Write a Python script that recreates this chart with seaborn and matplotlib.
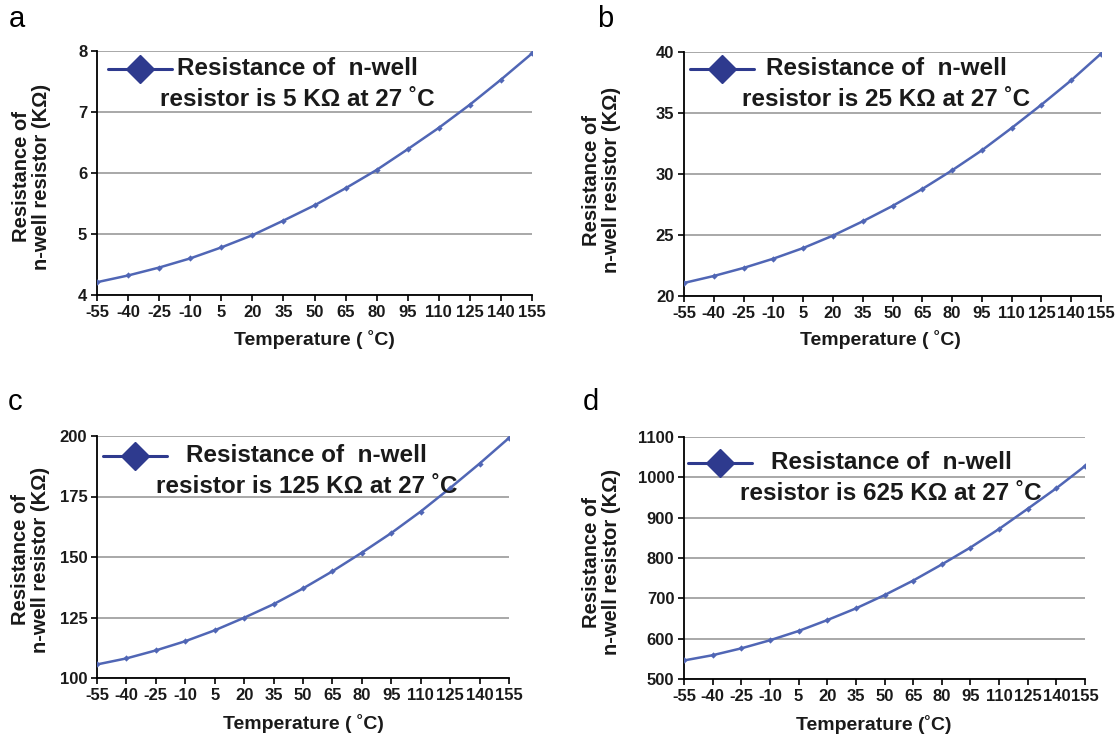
import matplotlib
matplotlib.use("Agg")
import matplotlib.pyplot as plt
from matplotlib.lines import Line2D
from matplotlib.legend_handler import HandlerLine2D
import seaborn as sns
import pandas as pd

temps = [-55, -40, -25, -10, 5, 20, 35, 50, 65, 80, 95, 110, 125, 140, 155]

res_a = [4.21, 4.32, 4.45, 4.60, 4.78, 4.98, 5.22, 5.47, 5.75, 6.05, 6.39, 6.74, 7.12, 7.53, 7.96]
res_b = [21.07, 21.64, 22.30, 23.06, 23.93, 24.95, 26.12, 27.38, 28.77, 30.30, 31.94, 33.77, 35.68, 37.68, 39.86]
res_c = [105.6, 108.1, 111.4, 115.2, 119.7, 124.9, 130.5, 137.0, 144.1, 151.8, 159.9, 168.8, 178.5, 188.6, 199.2]
res_d = [546, 559, 576, 596, 619, 646, 675, 708, 744, 784, 826, 872, 922, 973, 1028]

nominal = ["5", "25", "125", "625"]
panel_letters = ["a", "b", "c", "d"]
xlabels = ["Temperature ( \u02daC)", "Temperature ( \u02daC)", "Temperature ( \u02daC)", "Temperature (\u02daC)"]
yticks_a = [4, 5, 6, 7, 8]
yticks_b = [20, 25, 30, 35, 40]
yticks_c = [100, 125, 150, 175, 200]
yticks_d = [500, 600, 700, 800, 900, 1000, 1100]

sns.set_theme(style="white")
plt.rcParams["font.family"] = ["Liberation Sans", "DejaVu Sans"]

LINE = "#5066b5"
NAVY = "#2e3a8e"
GRID = "#9a9a9a"
TXT = "#1a1a1a"
LEG_FS = 17.5


class ShiftedHandler(HandlerLine2D):
    """Line+marker handle raised to sit beside the first line of a two-line label."""
    def __init__(self, shift, **kw):
        super().__init__(**kw)
        self.shift = shift

    def create_artists(self, legend, orig_handle, xdescent, ydescent, width, height, fontsize, trans):
        arts = super().create_artists(legend, orig_handle, xdescent, ydescent, width, height, fontsize, trans)
        for a in arts:
            a.set_ydata([y + self.shift for y in a.get_ydata()])
        return arts


fig = plt.figure(figsize=(11.2, 7.35), dpi=100)
W, H = 1120, 735

# pixel boxes: left, top, right, bottom
boxes = [(97, 51, 532, 295), (684, 52, 1101, 296), (97, 436, 509, 678), (684, 437, 1085, 679)]
ylab_pos = [(-0.150, 0.484), (-0.197, 0.475), (-0.162, 0.488), (-0.205, 0.483)]
xlab_pos = [(0.50, -0.184), (0.47, -0.18), (0.50, -0.19), (0.472, -0.186)]
letter_pos = [(9, 27), (597, 27), (8, 410), (583, 410)]
# legend top-left anchor, pixels
legend_px = [(108, 57), (690, 57), (103, 444), (688, 451)]

series = [res_a, res_b, res_c, res_d]
yticks = [yticks_a, yticks_b, yticks_c, yticks_d]

for i in range(4):
    l, t, r, b = boxes[i]
    ax = fig.add_axes([l / W, 1 - b / H, (r - l) / W, (b - t) / H])
    df = pd.DataFrame({"Temperature": temps, "Resistance": series[i]})
    sns.lineplot(data=df, x="Temperature", y="Resistance", ax=ax, color=LINE,
                 linewidth=1.8, marker="D", markersize=3.2, markeredgewidth=0,
                 legend=False, zorder=3)
    ax.set_xlim(temps[0], temps[-1])
    ax.set_xticks(temps)
    ax.set_xticklabels([str(v) for v in temps])
    yt = yticks[i]
    ax.set_ylim(yt[0], yt[-1])
    ax.set_yticks(yt)
    ax.set_yticklabels([str(v) for v in yt])
    ax.grid(axis="y", color=GRID, linewidth=1.2)
    ax.grid(axis="x", visible=False)
    ax.set_axisbelow(True)
    for s in ["top", "right"]:
        ax.spines[s].set_visible(False)
    for s in ["left", "bottom"]:
        ax.spines[s].set_color("black")
        ax.spines[s].set_linewidth(1.3)
    ax.tick_params(axis="both", which="major", direction="out", length=4, width=1.2,
                   color="black", labelsize=12, labelcolor=TXT, pad=3,
                   bottom=True, left=True)
    for lab in ax.get_xticklabels() + ax.get_yticklabels():
        lab.set_fontweight("bold")
    ax.set_xlabel(xlabels[i], fontsize=14, fontweight="bold", color=TXT, va="center")
    ax.xaxis.set_label_coords(*xlab_pos[i])
    ax.set_ylabel("Resistance of\nn-well resistor (K\u03a9)", fontsize=14.5, fontweight="bold",
                  color=TXT, va="center", linespacing=1.05)
    ax.yaxis.set_label_coords(*ylab_pos[i])

    handle = Line2D([0], [0], color=NAVY, linewidth=2.2, marker="D", markersize=14,
                    markerfacecolor=NAVY, markeredgecolor=NAVY)
    label = "Resistance of  n-well\nresistor is %s K\u03a9 at 27 \u02daC" % nominal[i]
    lx, ly = legend_px[i]
    leg = ax.legend([handle], [label], loc="upper left",
                    bbox_to_anchor=(lx / W, 1 - ly / H), bbox_transform=fig.transFigure,
                    frameon=False, handlelength=2.65, handletextpad=-0.49,
                    borderpad=0, borderaxespad=0,
                    prop={"size": LEG_FS, "weight": "bold"},
                    handler_map={Line2D: ShiftedHandler(shift=11.3)})
    for txt in leg.get_texts():
        txt.set_multialignment("center")
        txt.set_color(TXT)
        txt.set_linespacing(1.42)

    fig.text(letter_pos[i][0] / W, 1 - letter_pos[i][1] / H, panel_letters[i],
             fontsize=21, color="black", ha="left", va="baseline")

fig.savefig("out.png", dpi=100)
